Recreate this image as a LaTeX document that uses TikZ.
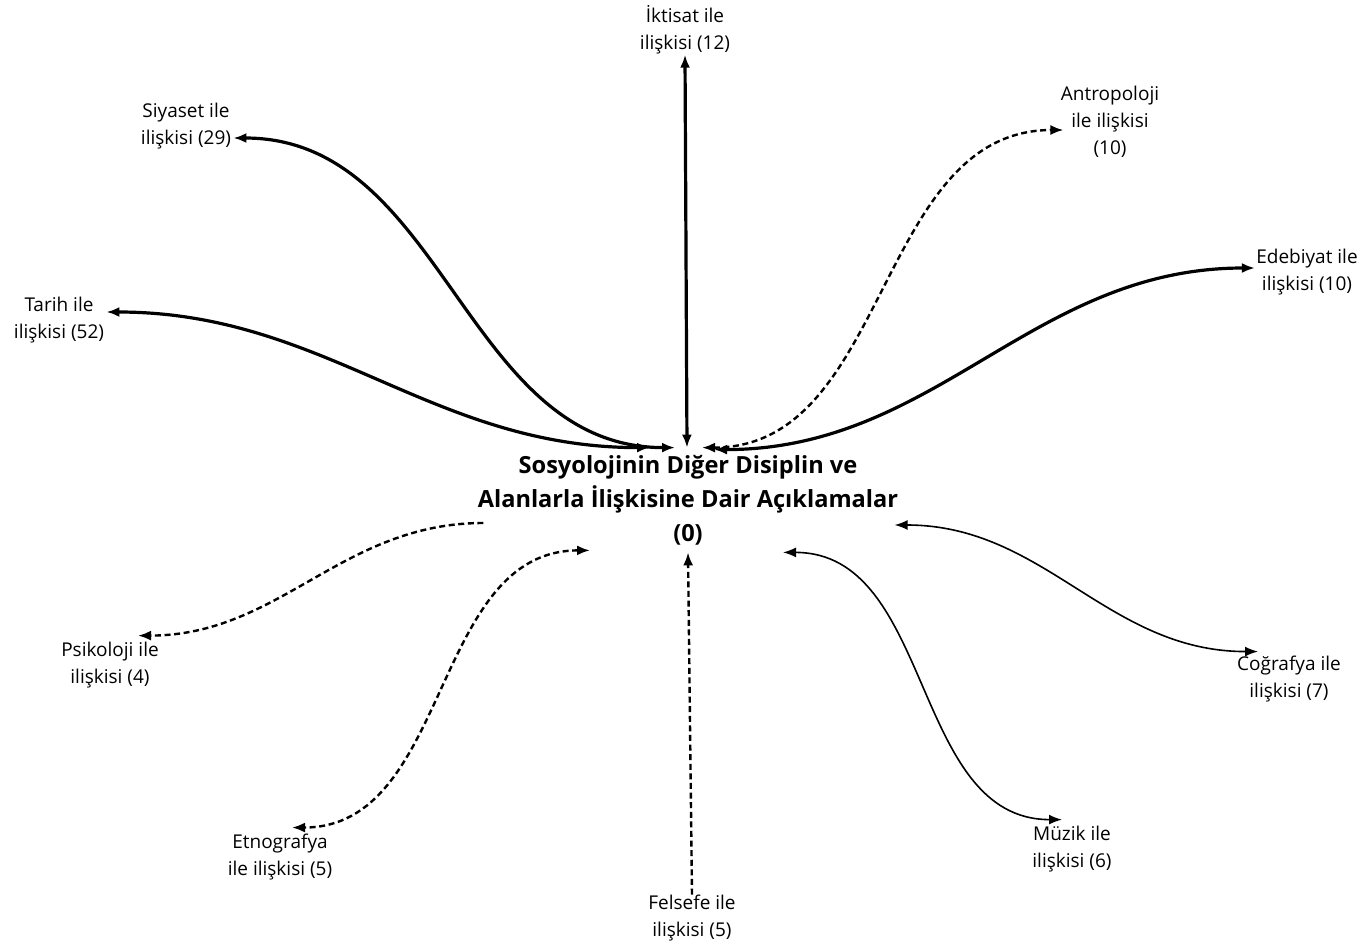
\documentclass[tikz,border=0pt]{standalone}
\usepackage{fontspec}
\setmainfont{Open Sans}
\usetikzlibrary{arrows.meta,calc}

\begin{document}
\begin{tikzpicture}[x=0.5pt, y=-0.5pt,
    >={Latex[length=6.5pt,width=5pt]},
    lab/.style={align=center, font=\fontsize{9.5}{13.5}\selectfont, inner sep=0pt},
    hub/.style={align=center, font=\fontsize{11.8}{17}\selectfont\bfseries,
        minimum width=204pt, minimum height=52pt, inner sep=0pt},
    bold link/.style={line width=1.6pt},
    thin link/.style={line width=0.8pt},
    dash link/.style={line width=1.2pt, dash pattern=on 3pt off 1.8pt}]
    \useasboundingbox (0,0) rectangle (1362,948);

    % Main node
    \node[hub] (sosyoloji) at (688,500)
        {Sosyolojinin Diğer Disiplin ve\\ Alanlarla İlişkisine Dair Açıklamalar\\ (0)};

    % Disciplines around it
    \node[lab] (iktisat) at (685,30) {İktisat ile\\ ilişkisi (12)};
    \node[lab] (siyaset) at (186,126) {Siyaset ile\\ ilişkisi (29)};
    \node[lab] (antropoloji) at (1110,122) {Antropoloji\\ ile ilişkisi\\ (10)};
    \node[lab] (edebiyat) at (1307,272) {Edebiyat ile\\ ilişkisi (10)};
    \node[lab] (tarih) at (59,320) {Tarih ile\\ ilişkisi (52)};
    \node[lab] (psikoloji) at (110,665) {Psikoloji ile\\ ilişkisi (4)};
    \node[lab] (etnografya) at (280,857) {Etnografya\\ ile ilişkisi (5)};
    \node[lab] (felsefe) at (692,918) {Felsefe ile\\ ilişkisi (5)};
    \node[lab] (muzik) at (1072,849) {Müzik ile\\ ilişkisi (6)};
    \node[lab] (cografya) at (1289,679) {Coğrafya ile\\ ilişkisi (7)};

    % Upper links
    \draw[<->, bold link] (iktisat.south) -- ($(sosyoloji.north)+(-1,0)$);
    \draw[<->, bold link] ($(siyaset.east)+(2,12)$) to[out=0, in=180] ($(sosyoloji.north)+(-13,0)$);
    \draw[<->, bold link] ($(tarih.east)+(2,-8)$) to[out=0, in=180] ($(sosyoloji.north)+(-38,0)$);
    \draw[<->, dash link] ($(sosyoloji.north)+(14,0)$) to[out=0, in=180] ($(antropoloji.west)+(3,8)$);
    \draw[<->, bold link] ($(sosyoloji.north)+(26,2)$) to[out=0, in=180] ($(edebiyat.west)+(-1,-4)$);

    % Lower links
    \draw[->, dash link] ($(sosyoloji.west)+(6,23)$) to[out=180, in=0] ($(psikoloji.north)+(28,-6)$);
    \draw[<->, dash link] ($(sosyoloji.south)+(-98,-2)$) to[out=180, in=0] ($(etnografya.north)+(12,-6)$);
    \draw[->, dash link] (felsefe.north) -- (sosyoloji.south);
    \draw[<->, thin link] ($(sosyoloji.south)+(95,0)$) to[out=0, in=180] ($(muzik.north)+(-10,-6)$);
    \draw[<->, thin link] ($(sosyoloji.east)+(-4,25)$) to[out=0, in=180] ($(cografya.north)+(-31,-4)$);
\end{tikzpicture}
\end{document}
